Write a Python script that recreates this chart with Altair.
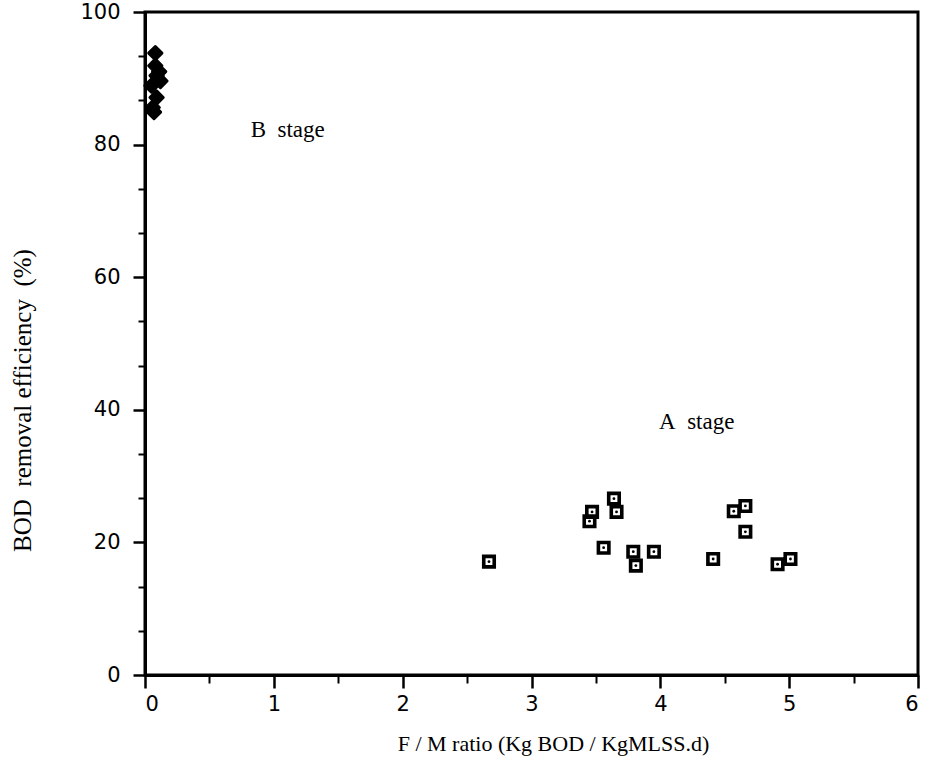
import altair as alt
import pandas as pd

# B stage (filled diamonds)
b_x = [0.08, 0.08, 0.09, 0.12, 0.05, 0.11, 0.09, 0.06, 0.07]
b_y = [93.8, 91.9, 90.4, 89.6, 88.9, 91.0, 87.1, 85.6, 84.9]

# A stage (open squares)
a_x = [2.67, 3.45, 3.47, 3.56, 3.64, 3.66, 3.79, 3.81, 3.95, 4.41, 4.57, 4.66, 4.66, 4.91, 5.01]
a_y = [17.1, 23.2, 24.6, 19.2, 26.6, 24.6, 18.6, 16.5, 18.6, 17.5, 24.7, 25.5, 21.6, 16.7, 17.5]

x_major = [0, 1, 2, 3, 4, 5, 6]
x_minor = [0.5, 1.5, 2.5, 3.5, 4.5, 5.5]
y_major = [0, 20, 40, 60, 80, 100]
y_minor = [round(20 / 3 * k, 3) for k in range(1, 15) if k % 3 != 0]

labels_text = ["B\u00a0\u00a0stage", "A\u00a0\u00a0stage"]
labels_x = [0.82, 3.99]
labels_y = [82.2, 38.1]

x_title = "F / M ratio (Kg BOD / KgMLSS.d)"
y_title = "BOD\u00a0\u00a0removal efficiency\u00a0\u00a0(%)"

dfa = pd.DataFrame({"x": a_x, "y": a_y})
dfb = pd.DataFrame({"x": b_x, "y": b_y})
dft = pd.DataFrame({"x": labels_x, "y": labels_y, "t": labels_text})

xs = alt.Scale(domain=[0, 6], nice=False, zero=False)
ys = alt.Scale(domain=[0, 100], nice=False, zero=False)

major_x_axis = alt.Axis(values=x_major, title=x_title, orient="bottom", tickSize=13,
                        tickWidth=2.5, labelPadding=5, format="d",
                        titleX=408, titleY=68, titleBaseline="middle", titleFontSize=22)
major_y_axis = alt.Axis(values=y_major, title=y_title, orient="left", tickSize=12,
                        tickWidth=2.5, labelPadding=13, format="d",
                        titleX=-123, titleY=388, titleBaseline="middle", titleFontSize=25)
minor_x_axis = alt.Axis(values=x_minor, title=None, orient="bottom", labels=False,
                        tickSize=8, tickWidth=2, domain=False)
minor_y_axis = alt.Axis(values=y_minor, title=None, orient="left", labels=False,
                        tickSize=7, tickWidth=2, domain=False)

squares = alt.Chart(dfa).mark_point(
    shape="square", filled=False, size=110, strokeWidth=3.6, color="black", opacity=1
).encode(
    x=alt.X("x:Q", scale=xs, axis=major_x_axis),
    y=alt.Y("y:Q", scale=ys, axis=major_y_axis),
)

dots = alt.Chart(dfa).mark_point(
    shape="circle", filled=True, size=8, color="black", opacity=1
).encode(
    x=alt.X("x:Q", scale=xs, axis=None),
    y=alt.Y("y:Q", scale=ys, axis=None),
)

diamonds = alt.Chart(dfb).mark_point(
    shape="diamond", filled=True, size=175, color="black", opacity=1,
    stroke="black", strokeWidth=3, strokeJoin="round"
).encode(
    x=alt.X("x:Q", scale=xs, axis=minor_x_axis),
    y=alt.Y("y:Q", scale=ys, axis=minor_y_axis),
)

texts = alt.Chart(dft).mark_text(
    font="Liberation Serif", fontSize=23, align="left", baseline="middle", color="black"
).encode(
    x=alt.X("x:Q", scale=xs, axis=None),
    y=alt.Y("y:Q", scale=ys, axis=None),
    text="t:N",
)

chart = alt.layer(squares, diamonds, dots, texts).resolve_axis(
    x="independent", y="independent"
).properties(
    width=773, height=663,
    autosize=alt.AutoSizeParams(type="none"),
    padding={"left": 145, "top": 12, "right": 9, "bottom": 86},
    background="white",
).configure_view(
    stroke="black", strokeWidth=3
).configure_axis(
    grid=False,
    domainColor="black", domainWidth=3, tickColor="black",
    labelColor="black", labelFont="DejaVu Sans", labelFontSize=21,
    titleColor="black", titleFont="Liberation Serif",
    titleFontWeight="normal",
)

chart.save("out.html", embed_options={"renderer": "svg", "actions": False})
